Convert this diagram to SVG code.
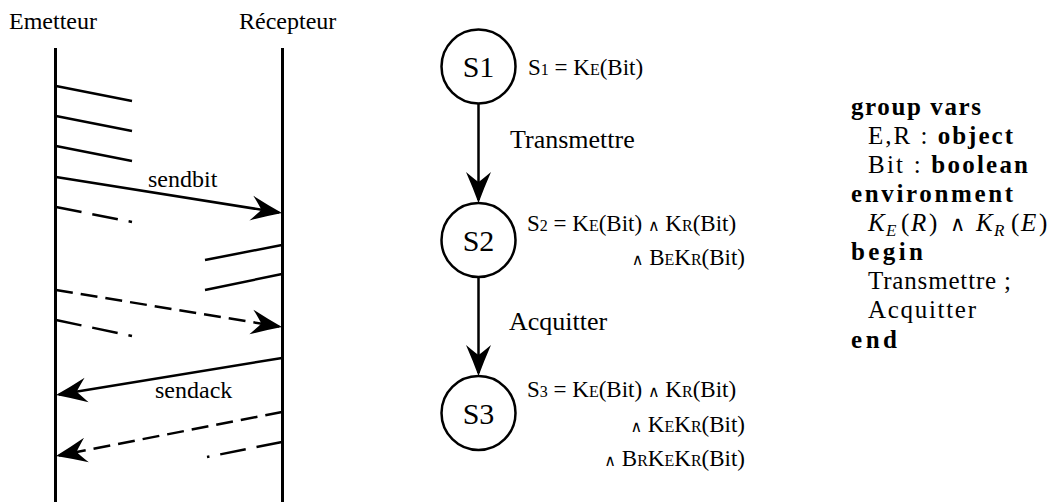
<svg xmlns="http://www.w3.org/2000/svg" width="1059" height="502" viewBox="0 0 1059 502">
<style>
.t{font-family:"Liberation Serif","Times New Roman",serif;fill:#000}
.lb{font-size:24px}
.st{font-size:30px}
.tr{font-size:26px}
.fm{font-size:23px}
.sm{font-size:16px}
.wd{font-family:"DejaVu Serif",serif;font-size:16px}
.cm{font-family:"Liberation Serif","Times New Roman",serif;font-size:25px;fill:#000}
.mt{font-family:"Liberation Serif","Times New Roman",serif;font-size:25px;fill:#000}
.mw{font-family:"DejaVu Serif",serif;font-size:21px}
.b{font-weight:bold}
.i{font-style:italic}
.sub{font-size:17px;font-style:italic}
.ln{stroke:#000;stroke-width:2.5;fill:none}
.life{stroke:#000;stroke-width:3;fill:none}
.da{stroke-dasharray:26 11}
.db{stroke-dasharray:17 8}
.nd{fill:#fff;stroke:#000;stroke-width:2.5}
</style>
<defs>
<marker id="ah" viewBox="-34 -14 36 28" refX="-3" refY="0" markerWidth="36" markerHeight="28" markerUnits="userSpaceOnUse" orient="auto">
<path d="M0,0 Q-15,-5.5 -31,-12.5 Q-23,-3 -21,0 Q-23,3 -31,12.5 Q-15,5.5 0,0 Z" fill="#000"/>
</marker>
</defs>

<g id="emetteur">
<text class="t lb" x="9" y="29">Emetteur</text>
<line class="life" x1="55.5" y1="48" x2="55.5" y2="502"/>
</g>
<g id="recepteur">
<text class="t lb" x="239" y="29">Récepteur</text>
<line class="life" x1="282.5" y1="48" x2="282.5" y2="502"/>
</g>

<g id="messages">
<line class="ln" x1="56" y1="86" x2="132" y2="101"/>
<line class="ln" x1="56" y1="116" x2="132" y2="131"/>
<line class="ln" x1="56" y1="146" x2="132" y2="161"/>
<line class="ln" x1="56" y1="177" x2="279.04" y2="212.53" marker-end="url(#ah)"/>
<text class="t lb" x="148" y="187">sendbit</text>
<line class="ln da" x1="56" y1="207" x2="132" y2="222"/>
<line class="ln" x1="282" y1="245" x2="205" y2="260"/>
<line class="ln" x1="282" y1="274" x2="205" y2="290"/>
<line class="ln db" x1="56" y1="290" x2="279.04" y2="326.52" marker-end="url(#ah)"/>
<line class="ln da" x1="56" y1="320" x2="132" y2="336"/>
<line class="ln" x1="282" y1="358" x2="58.96" y2="394.52" marker-end="url(#ah)"/>
<text class="t lb" x="155" y="398">sendack</text>
<line class="ln db" x1="282" y1="412" x2="58.94" y2="455.43" marker-end="url(#ah)"/>
<line class="ln da" x1="282" y1="442" x2="207" y2="457"/>
</g>

<g id="connectors">
<line class="ln" x1="478.5" y1="104" x2="478.5" y2="200" marker-end="url(#ah)"/>
<text class="t tr" x="510" y="148">Transmettre</text>
<line class="ln" x1="478.5" y1="277" x2="478.5" y2="373" marker-end="url(#ah)"/>
<text class="t tr" x="509" y="330">Acquitter</text>
</g>

<g id="S1">
<circle class="nd" cx="478.5" cy="66.5" r="37"/>
<text class="t st" x="478.5" y="77" text-anchor="middle">S1</text>
<text class="t fm" x="528" y="75">S<tspan class="sm">1</tspan> = K<tspan class="sm">E</tspan>(Bit)</text>
</g>
<g id="S2">
<circle class="nd" cx="478.5" cy="240" r="37"/>
<text class="t st" x="478.5" y="251" text-anchor="middle">S2</text>
<text class="t fm" x="527" y="231">S<tspan class="sm">2</tspan> = K<tspan class="sm">E</tspan>(Bit) <tspan class="wd">∧</tspan> K<tspan class="sm">R</tspan>(Bit)</text>
<text class="t fm" x="745" y="265" text-anchor="end"><tspan class="wd">∧</tspan> B<tspan class="sm">E</tspan>K<tspan class="sm">R</tspan>(Bit)</text>
</g>
<g id="S3">
<circle class="nd" cx="478.5" cy="413" r="37"/>
<text class="t st" x="478.5" y="424" text-anchor="middle">S3</text>
<text class="t fm" x="527" y="397">S<tspan class="sm">3</tspan> = K<tspan class="sm">E</tspan>(Bit) <tspan class="wd">∧</tspan> K<tspan class="sm">R</tspan>(Bit)</text>
<text class="t fm" x="745" y="432" text-anchor="end"><tspan class="wd">∧</tspan> K<tspan class="sm">E</tspan>K<tspan class="sm">R</tspan>(Bit)</text>
<text class="t fm" x="745" y="466" text-anchor="end"><tspan class="wd">∧</tspan> B<tspan class="sm">R</tspan>K<tspan class="sm">E</tspan>K<tspan class="sm">R</tspan>(Bit)</text>
</g>

<g id="program">
<text class="cm b" x="851" y="115" textLength="130" lengthAdjust="spacing">group vars</text>
<text class="cm" x="868" y="144" textLength="145" lengthAdjust="spacing">E,R : <tspan class="b">object</tspan></text>
<text class="cm" x="868" y="173" textLength="160" lengthAdjust="spacing">Bit : <tspan class="b">boolean</tspan></text>
<text class="cm b" x="851" y="202" textLength="162" lengthAdjust="spacing">environment</text>
<text class="mt" y="231"><tspan class="i" x="868">K</tspan><tspan class="sub" x="886" dy="5">E</tspan><tspan x="901" dy="-5">(</tspan><tspan class="i" x="911">R</tspan><tspan x="929">)</tspan><tspan class="mw" x="950">∧</tspan><tspan class="i" x="976">K</tspan><tspan class="sub" x="994" dy="5">R</tspan><tspan x="1011" dy="-5">(</tspan><tspan class="i" x="1021">E</tspan><tspan x="1039">)</tspan></text>
<text class="cm b" x="851" y="260" textLength="72" lengthAdjust="spacing">begin</text>
<text class="cm" x="868" y="289" textLength="143" lengthAdjust="spacing">Transmettre ;</text>
<text class="cm" x="868" y="318" textLength="108" lengthAdjust="spacing">Acquitter</text>
<text class="cm b" x="851" y="348" textLength="46" lengthAdjust="spacing">end</text>
</g>
</svg>
